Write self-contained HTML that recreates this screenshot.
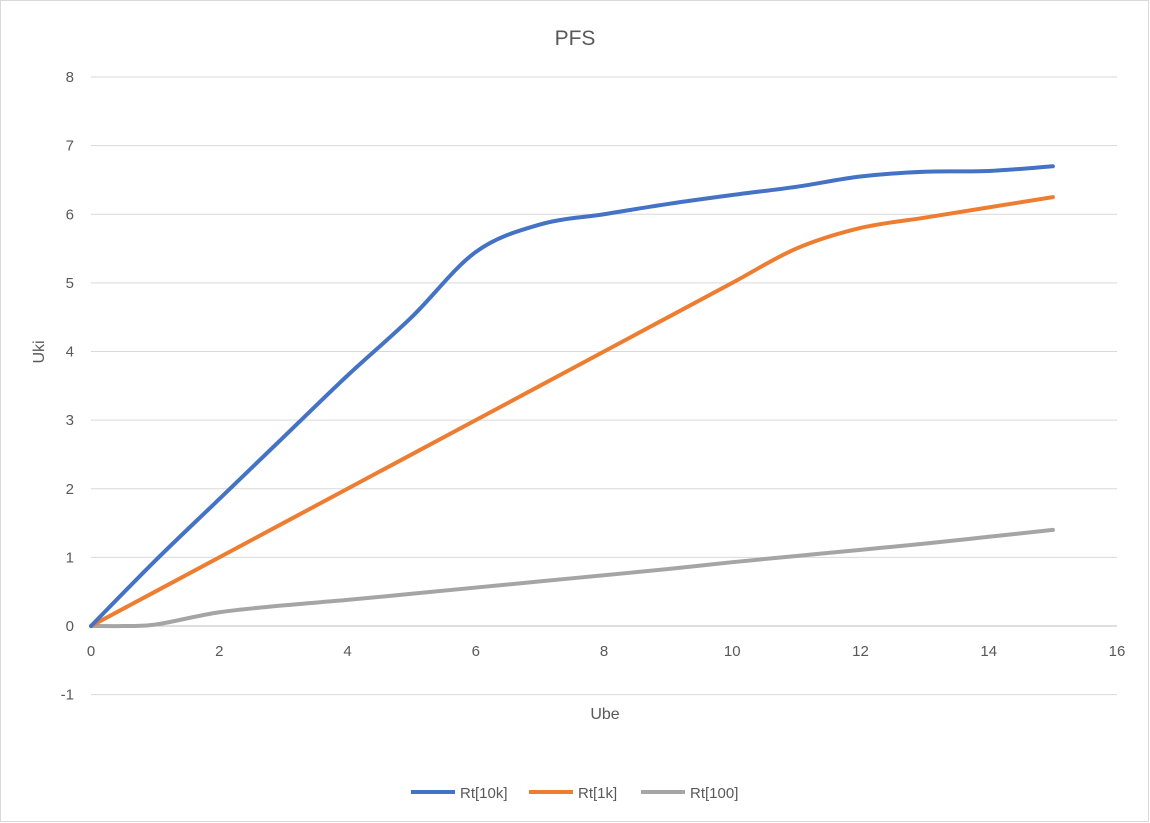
<!DOCTYPE html>
<html><head><meta charset="utf-8"><style>
body{margin:0;background:#fff;}
svg{display:block;font-family:"Liberation Sans",sans-serif;}
</style></head><body>
<svg id="chart" width="1150" height="823">
<rect x="0.5" y="0.5" width="1148" height="821" fill="#fff" stroke="#d9d9d9"/>
<text x="575" y="45" font-size="21" fill="#595959" text-anchor="middle">PFS</text>
<g id="grid"></g><g id="series"></g>
<text x="605" y="719" font-size="16" fill="#595959" text-anchor="middle">Ube</text>
<text transform="translate(44,352) rotate(-90)" font-size="16" fill="#595959" text-anchor="middle">Uki</text>
<g>
<line x1="411" y1="792" x2="455" y2="792" stroke="#4472c4" stroke-width="4"/>
<text x="460" y="798" font-size="15" fill="#595959">Rt[10k]</text>
<line x1="529" y1="792" x2="573" y2="792" stroke="#ed7d31" stroke-width="4"/>
<text x="578" y="798" font-size="15" fill="#595959">Rt[1k]</text>
<line x1="641" y1="792" x2="685" y2="792" stroke="#a5a5a5" stroke-width="4"/>
<text x="690" y="798" font-size="15" fill="#595959">Rt[100]</text>
</g>
</svg>
<script>
const xTicks=[0,2,4,6,8,10,12,14,16];
const yTicks=[-1,0,1,2,3,4,5,6,7,8];
const xMain=[0,1,2,3,4,5,6,7,8,9,10,11,12,13,14,15];
const s10k=[0,0.95,1.85,2.75,3.65,4.5,5.45,5.85,6,6.15,6.28,6.4,6.55,6.62,6.63,6.7];
const s1k=[0,0.5,1,1.5,2,2.5,3,3.5,4,4.5,5,5.5,5.8,5.95,6.1,6.25];
const xGray=[0,0.5,1,2,3,4,5,6,7,8,9,10,11,12,13,14,15];
const s100=[0,0,0.02,0.2,0.3,0.38,0.47,0.56,0.65,0.74,0.83,0.93,1.02,1.11,1.2,1.3,1.4];
const NS='http://www.w3.org/2000/svg';
const X=v=>91+v*(1117-91)/16;
const Y=v=>626-v*(626-77)/8;
const grid=document.getElementById('grid');
yTicks.forEach(t=>{
 if(t!==0){const l=document.createElementNS(NS,'line');
 l.setAttribute('x1',91);l.setAttribute('x2',1117);l.setAttribute('y1',Y(t));l.setAttribute('y2',Y(t));
 l.setAttribute('stroke','#d9d9d9');
 
 
 grid.appendChild(l);}
 const tx=document.createElementNS(NS,'text');
 tx.setAttribute('x',74);tx.setAttribute('y',Y(t)+5);tx.setAttribute('font-size','15');tx.setAttribute('fill','#595959');tx.setAttribute('text-anchor','end');
 tx.textContent=t;
 
 
 grid.appendChild(tx);
});
const ax=document.createElementNS(NS,'line');
ax.setAttribute('x1',91);ax.setAttribute('x2',1117);ax.setAttribute('y1',Y(0));ax.setAttribute('y2',Y(0));ax.setAttribute('stroke','#bfbfbf');


grid.appendChild(ax);
xTicks.forEach(t=>{
 const tx=document.createElementNS(NS,'text');
 tx.setAttribute('x',X(t));tx.setAttribute('y',656);tx.setAttribute('font-size','15');tx.setAttribute('fill','#595959');tx.setAttribute('text-anchor','middle');
 tx.textContent=t;
 
 
 grid.appendChild(tx);
});
function path(xs,ys){
 const p=xs.map((x,i)=>[X(x),Y(ys[i])]);
 let d='M'+p[0][0]+','+p[0][1];
 for(let i=0;i<p.length-1;i++){
  const p0=p[Math.max(0,i-1)],p1=p[i],p2=p[i+1],p3=p[Math.min(p.length-1,i+2)];
  const t=1/6;
  d+=' C'+(p1[0]+(p2[0]-p0[0])*t)+','+(p1[1]+(p2[1]-p0[1])*t)+' '+(p2[0]-(p3[0]-p1[0])*t)+','+(p2[1]-(p3[1]-p1[1])*t)+' '+p2[0]+','+p2[1];
 }
 return d;
}
const g=document.getElementById('series');
[[xGray,s100,'#a5a5a5','series-rt100'],[xMain,s1k,'#ed7d31','series-rt1k'],[xMain,s10k,'#4472c4','series-rt10k']].forEach(s=>{
 const el=document.createElementNS(NS,'path');
 el.setAttribute('d',path(s[0],s[1]));el.setAttribute('fill','none');el.setAttribute('stroke',s[2]);el.setAttribute('stroke-width','4');el.setAttribute('stroke-linecap','round');
 
 
 g.appendChild(el);
});
</script>
</body></html>
